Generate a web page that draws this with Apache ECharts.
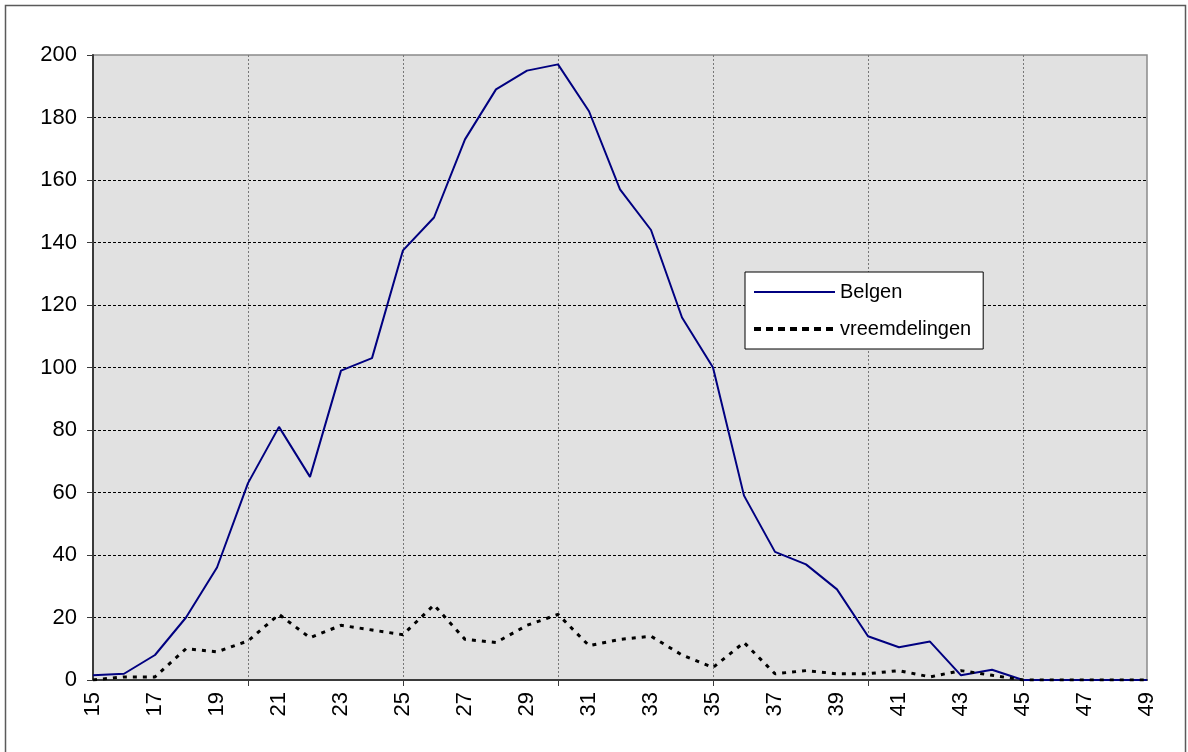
<!DOCTYPE html>
<html>
<head>
<meta charset="utf-8">
<script src="https://cdn.jsdelivr.net/npm/echarts@6/dist/echarts.min.js"></script>
<style>
    html, body { margin: 0; padding: 0; background: #fff; }
    #chart { width: 1188px; height: 752px; }
</style>
</head>
<body>
<div id="chart"></div>
<script>
// leeftijden 15..49
var ages = [];
for (var a = 15; a <= 49; a++) {
    ages.push(String(a));
}
var belgen = [1.5, 2, 8, 20, 36, 63, 81, 65, 99, 103,
    137.5, 148, 173, 189, 195, 197, 182, 157, 144, 116,
    100, 59, 41, 37, 29, 14, 10.5, 12.3, 1.5, 3.3,
    0, 0, 0, 0, 0];
var vreemdelingen = [0, 1, 1, 10, 9, 12.5, 21, 13.5, 17.5, 16,
    14.5, 24, 13, 12, 17.5, 21, 11, 13, 14, 8,
    4, 12, 2, 3, 2, 2, 3, 1, 3, 1.5,
    0, 0, 0, 0, 0];
var yTicks = { min: 0, max: 200, step: 20 };

var font = "'Liberation Sans', Arial, sans-serif";
var everyFifth = function (i) {
    return i > 0 && i % 5 == 0;
};

var myChart = echarts.init(document.getElementById("chart"));
var option = {
    animation: false,
    textStyle: { fontFamily: font },
    graphic: [{
        type: "rect",
        shape: { x: 5.5, y: 5.5, width: 1180, height: 770 },
        style: { fill: "none", stroke: "#5a5a5a", lineWidth: 1.5 },
        silent: true
    }],
    grid: {
        left: 93,
        right: 41,
        top: 55,
        bottom: 72,
        show: true,
        backgroundColor: "#e1e1e1",
        borderColor: "#8a8a8a",
        borderWidth: 1.5
    },
    legend: {
        orient: "vertical",
        left: 745,
        top: 272,
        backgroundColor: "#fff",
        borderColor: "#000",
        borderWidth: 1,
        borderRadius: 0,
        padding: [10, 12, 10, 7],
        itemWidth: 81,
        itemHeight: 20,
        itemGap: 17,
        itemStyle: { opacity: 0 },
        textStyle: { fontFamily: font, fontSize: 20, color: "#000" },
        data: [
            { name: "Belgen", lineStyle: { width: 2 } },
            { name: "vreemdelingen", lineStyle: { width: 4, type: [7, 5] } }
        ]
    },
    xAxis: {
        type: "category",
        boundaryGap: false,
        data: ages,
        axisLine: { lineStyle: { color: "#3a3a3a", width: 2 } },
        axisTick: { show: true, interval: everyFifth, length: 6, lineStyle: { color: "#3a3a3a", width: 1 } },
        axisLabel: {
            interval: 1,
            rotate: 90,
            margin: 12,
            fontFamily: font,
            fontSize: 22,
            color: "#000"
        },
        splitLine: {
            show: true,
            interval: everyFifth,
            lineStyle: { color: "#777", type: [2, 2], width: 1 }
        }
    },
    yAxis: {
        type: "value",
        min: yTicks.min,
        max: yTicks.max,
        interval: yTicks.step,
        axisLine: { show: true, lineStyle: { color: "#3a3a3a", width: 2 } },
        axisTick: { show: true, length: 6, lineStyle: { color: "#3a3a3a", width: 1 } },
        axisLabel: { margin: 16, fontFamily: font, fontSize: 22, color: "#000" },
        splitLine: {
            show: true,
            showMinLine: false,
            showMaxLine: false,
            lineStyle: { color: "#000", type: [3, 2], width: 1 }
        }
    },
    series: [
        {
            name: "Belgen",
            type: "line",
            symbol: "none",
            data: belgen,
            lineStyle: { color: "#000080", width: 2 },
            itemStyle: { color: "#000080" }
        },
        {
            name: "vreemdelingen",
            type: "line",
            symbol: "none",
            data: vreemdelingen,
            lineStyle: { color: "#000", width: 3, type: [4, 6] },
            itemStyle: { color: "#000" }
        }
    ]
};
myChart.setOption(option);
</script>
</body>
</html>
